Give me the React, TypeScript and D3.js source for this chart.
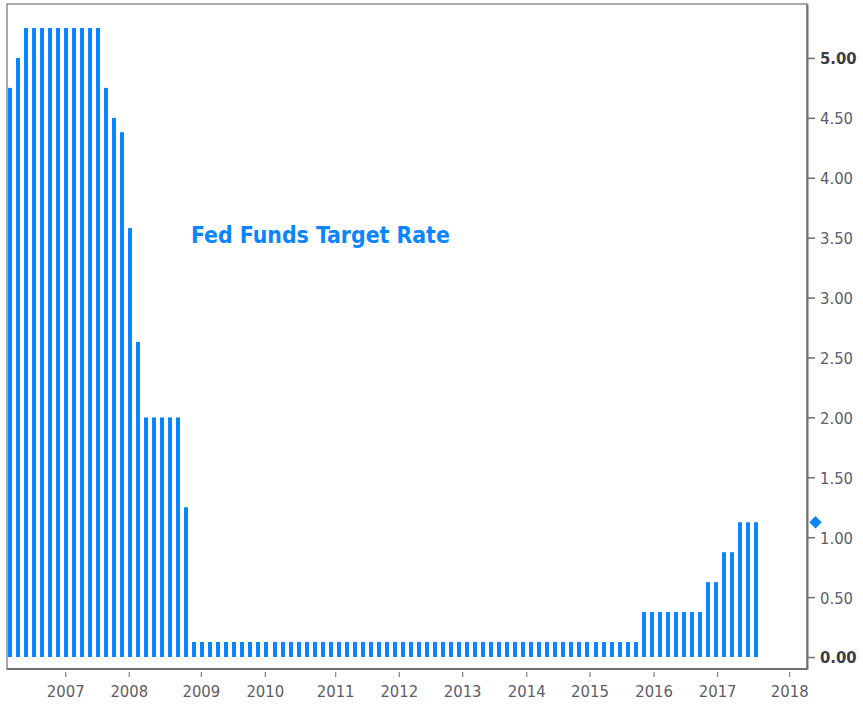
import { useEffect, useRef } from 'react';
import * as d3 from 'd3';

// one bar per FOMC period, Mar 2006 .. Jul 2017
const rates = [
  4.75, 5.0,
  5.25, 5.25, 5.25, 5.25, 5.25, 5.25, 5.25, 5.25, 5.25, 5.25,
  4.75, 4.5, 4.38, 3.58, 2.63,
  2.0, 2.0, 2.0, 2.0, 2.0,
  1.25,
  0.125, 0.125, 0.125, 0.125, 0.125, 0.125, 0.125, 0.125,
  0.125, 0.125, 0.125, 0.125, 0.125, 0.125, 0.125, 0.125,
  0.125, 0.125, 0.125, 0.125, 0.125, 0.125, 0.125, 0.125,
  0.125, 0.125, 0.125, 0.125, 0.125, 0.125, 0.125, 0.125,
  0.125, 0.125, 0.125, 0.125, 0.125, 0.125, 0.125, 0.125,
  0.125, 0.125, 0.125, 0.125, 0.125, 0.125, 0.125, 0.125,
  0.125, 0.125, 0.125, 0.125, 0.125, 0.125, 0.125, 0.125,
  0.375, 0.375, 0.375, 0.375, 0.375, 0.375, 0.375, 0.375,
  0.625, 0.625,
  0.875, 0.875,
  1.125, 1.125, 1.125
];

const yearLabels = ['2007', '2008', '2009', '2010', '2011', '2012', '2013', '2014', '2015', '2016', '2017', '2018'];
// where each year starts, in bar-index units
const yearPositions = [6.98, 14.9, 23.88, 31.85, 40.62, 48.55, 56.45, 64.43, 72.31, 80.3, 88.22, 97.2];

const rateTicks = [0, 0.5, 1.0, 1.5, 2.0, 2.5, 3.0, 3.5, 4.0, 4.5, 5.0];

const title = 'Fed Funds Target Rate';

const App = () => {
  const ref = useRef<SVGSVGElement>(null);

  useEffect(() => {
    const svg = d3.select(ref.current);
    svg.selectAll('*').remove();

    const frame = { left: 7, right: 807, top: 4, bottom: 669 };
    const fontFamily = '"DejaVu Sans Condensed", "DejaVu Sans", Verdana, sans-serif';
    const blue = '#0a84ff';

    const xScale = d3.scaleLinear()
      .domain([0, rates.length - 1])
      .range([9.7, 756]);

    const yScale = d3.scaleLinear()
      .domain([-0.1, 5.45])
      .range([frame.bottom, frame.top]);

    // frame
    svg.append('rect')
      .attr('x', frame.left)
      .attr('y', frame.top)
      .attr('width', frame.right - frame.left)
      .attr('height', frame.bottom - frame.top)
      .attr('fill', 'white')
      .attr('stroke', '#8f8f8f')
      .attr('stroke-width', 1.5);

    // bars
    const barW = 4;
    svg.append('g').selectAll('rect').data(rates)
      .enter().append('rect')
      .attr('x', (d, i) => Math.round(xScale(i) - barW / 2))
      .attr('y', d => yScale(d))
      .attr('width', barW)
      .attr('height', d => yScale(0) - yScale(d))
      .attr('fill', blue);

    // right axis
    const yAxis = d3.axisRight(yScale)
      .tickValues(rateTicks)
      .tickSize(8)
      .tickSizeOuter(0)
      .tickFormat(d => d3.format('.2f')(d as number));

    const yAxisG = svg.append('g')
      .attr('transform', `translate(${frame.right},0)`)
      .call(yAxis);
    yAxisG.select('.domain').attr('stroke', '#707070').attr('stroke-width', 2);
    yAxisG.selectAll('.tick line').attr('stroke', '#707070').attr('stroke-width', 1.5);
    yAxisG.selectAll('.tick text')
      .attr('x', 13)
      .attr('dy', '0.36em')
      .style('font-family', fontFamily)
      .style('font-size', '16.5px')
      .attr('fill', (d: any) => (d === 0 || d === 5 ? '#3c3c46' : '#5c5c6a'))
      .style('font-weight', (d: any) => (d === 0 || d === 5 ? 'bold' : 'normal'));

    // bottom axis line
    svg.append('line')
      .attr('x1', frame.left)
      .attr('x2', frame.right)
      .attr('y1', frame.bottom)
      .attr('y2', frame.bottom)
      .attr('stroke', '#707070')
      .attr('stroke-width', 2);

    const xTicks = svg.append('g');
    xTicks.selectAll('line').data(yearPositions)
      .enter().append('line')
      .attr('x1', d => xScale(d))
      .attr('x2', d => xScale(d))
      .attr('y1', frame.bottom + 3)
      .attr('y2', frame.bottom + 8)
      .attr('stroke', '#808080')
      .attr('stroke-width', 1.2);
    xTicks.selectAll('text').data(yearPositions)
      .enter().append('text')
      .text((d, i) => yearLabels[i])
      .attr('x', d => xScale(d))
      .attr('y', 697)
      .attr('text-anchor', 'middle')
      .style('font-family', fontFamily)
      .style('font-size', '16.5px')
      .attr('fill', '#5c5c6a');

    // last value marker
    const last = rates[rates.length - 1];
    svg.append('path')
      .attr('d', d3.symbol().type(d3.symbolDiamond2).size(100)())
      .attr('transform', `translate(${frame.right + 8.5},${yScale(last)})`)
      .attr('fill', blue);

    // title
    svg.append('text').text(title)
      .attr('x', 191)
      .attr('y', 243)
      .style('font-family', fontFamily)
      .style('font-size', '22.8px')
      .style('font-weight', 'bold')
      .attr('fill', blue);
  }, []);

  return (
    <div>
      <svg ref={ref}
        width={863}
        height={704}
        style={{ position: 'absolute', left: 0, top: 0, background: 'white' }}
      >
      </svg>
    </div>
  );
};

export default App;
